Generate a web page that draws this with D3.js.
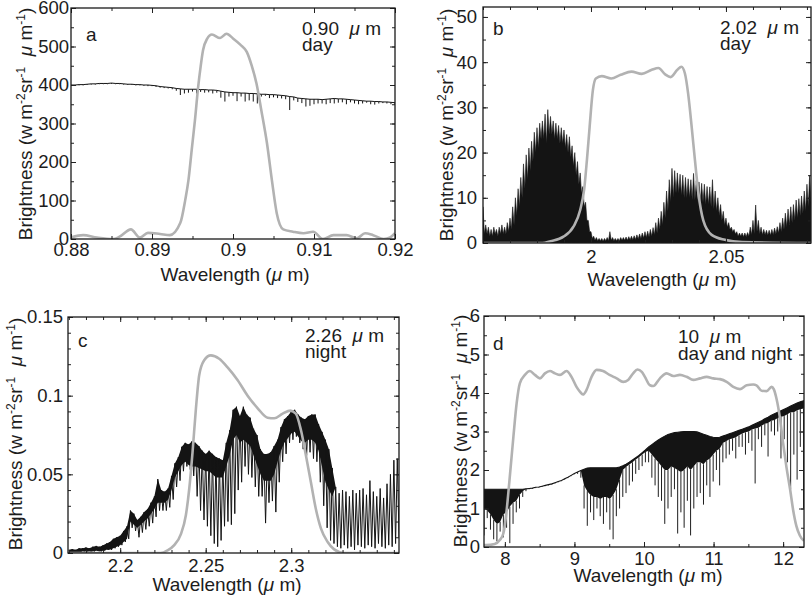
<!DOCTYPE html>
<html><head><meta charset="utf-8">
<script src="https://cdn.jsdelivr.net/npm/d3@7"></script>
<style>
body{margin:0;background:#fff;}
text{font-family:"Liberation Sans",Arial,Helvetica,sans-serif;fill:#1c1c1c;font-size:18.5px;white-space:pre;}
</style></head><body>
<svg id="chart" width="812" height="600" xmlns="http://www.w3.org/2000/svg"></svg>
<script>
// ---------------- DATA ----------------
// Panel a (0.90 um, day)
const aSpecStart = 0.880, aSpecStep = 0.0005;
const aSpecHi = [400,400,401,401,402,403,403,404,404,404,405,404,404,403,402,402,401,401,400,400,399,398,396,395,394,393,391,390,389,389,389,389,388,388,387,387,386,384,382,381,380,380,379,379,378,378,377,376,376,375,375,374,373,372,370,369,366,365,364,363,363,363,362,363,364,365,364,364,363,362,361,360,359,358,358,357,357,356,356,355,354];
const aSpecLo = [399,398,399,399,400,401,401,402,402,402,403,402,402,401,400,400,399,399,398,397,397,395,393,392,391,389,385,374,378,380,383,378,382,380,381,378,380,367,357,370,372,358,370,357,360,357,352,370,372,366,368,366,365,363,335,360,356,353,344,346,350,352,352,350,353,352,354,355,350,355,352,350,352,354,350,349,352,353,352,350,350];
const aFilter = [[0.8800,4],[0.8815,10],[0.8832,4],[0.8852,0],[0.8860,6],[0.8874,25],[0.8885,4],[0.8895,16],[0.8910,13],[0.8922,10],[0.8935,42],[0.8941,101],[0.8945,153],[0.8949,231],[0.8953,308],[0.8957,395],[0.8960,447],[0.8963,490],[0.8968,520],[0.8974,531],[0.8984,522],[0.8992,533],[0.9000,521],[0.9009,505],[0.9017,486],[0.9023,451],[0.9029,404],[0.9035,334],[0.9042,248],[0.9048,153],[0.9054,67],[0.9062,25],[0.9074,19],[0.9087,15],[0.9099,19],[0.9111,0],[0.9124,10],[0.9140,10],[0.9153,2],[0.9163,15],[0.9173,10],[0.9186,0],[0.9194,4],[0.9200,15]];
const aXTicks = [0.88,0.89,0.9,0.91,0.92];
const aYTicks = [0,100,200,300,400,500,600];

// Panel b (2.02 um, day)
const bSpecStart = 1.960, bSpecStep = 0.001;
const bSpecHi = [8,4,3.5,3,3.5,3,3.5,4,3.5,4.5,5.5,8,10,12,14.5,17.5,19.5,21,22.5,24.5,25.5,26.5,27,28.5,29.5,28,27,26.5,26,25.5,25,24,23.5,21.5,20,18,15.5,12.5,9,5,2.5,1.5,1.2,1,1,1,1.2,2.5,1.2,1,1,1.2,1.2,1.3,1.4,1.5,1.6,1.8,2,2.2,2.5,2.6,3,3.4,4.5,5.5,7,9,11.5,14,16.5,16,15.5,15.2,15,14.5,14.2,14,15.4,13.8,13.5,13.2,13,12.5,12.4,14,11.5,10,8.5,7,5.5,4.5,3.5,3,2.5,2.2,2.2,2.2,2.3,3.5,5,8.4,5,3.5,3,2.8,2.8,3,3.3,3.6,4.5,5.5,6.6,7.5,8,8.5,9.5,9.8,10.4,11.5,13,15,16];
const bSpecLo = [2,2,1.5,1.5,2,1.5,2,2,2,2.5,3,4,6,8,10,12,14,16,18,20,21,23,23,22,24,24,23,23,22,22,21,20,19,17,15,13,11,8,5,2.5,1,0.6,0.5,0.5,0.4,0.5,0.5,0.6,0.5,0.5,0.5,0.6,0.6,0.6,0.7,0.7,0.8,0.9,1,1.1,1.2,1.3,1.5,1.8,2.2,3,4,5.5,7,9,10,11,11,10.5,10,10,10,9.5,9.5,9,9,9,8.5,8.5,8,7.5,7,6,5,4,3.5,3,2.5,2,1.5,1.5,1.4,1.4,1.5,1.8,2,2.5,2,1.8,1.8,1.7,1.7,1.8,2,2.2,2.5,3,3.5,4,4.5,5,5.5,6,6.5,7,8,9,10];
const bFilter = [[1.960,0],[1.982,0],[1.985,0.4],[1.9898,1.4],[1.9935,3.6],[1.996,7.3],[1.9975,12],[1.9985,18.4],[1.9995,25.7],[2.0007,33.8],[2.0018,36.4],[2.004,36.9],[2.0075,36.4],[2.011,37.2],[2.015,37.9],[2.0188,37.4],[2.0225,38.3],[2.025,38.7],[2.0275,37.3],[2.0295,36.7],[2.032,38.3],[2.0335,39],[2.0348,37.5],[2.036,33],[2.0373,25.7],[2.0385,18.4],[2.0398,11],[2.0416,5],[2.0447,1.8],[2.0496,0.7],[2.056,0.2],[2.082,0]];
const bXTicks = [2,2.05];
const bYTicks = [0,10,20,30,40,50];

// Panel c (2.26 um, night)
const cSpecStart = 2.170, cSpecStep = 0.002;
const cSpecHi = [0.002,0.0025,0.002,0.003,0.003,0.0035,0.003,0.004,0.0045,0.004,0.005,0.006,0.007,0.009,0.010,0.011,0.014,0.017,0.027,0.025,0.021,0.023,0.026,0.028,0.032,0.036,0.047,0.040,0.039,0.041,0.049,0.057,0.061,0.0675,0.070,0.069,0.071,0.070,0.068,0.065,0.063,0.065,0.063,0.061,0.060,0.059,0.070,0.078,0.091,0.093,0.087,0.093,0.088,0.086,0.079,0.075,0.066,0.063,0.063,0.064,0.068,0.072,0.080,0.085,0.087,0.090,0.091,0.088,0.086,0.085,0.087,0.088,0.088,0.082,0.077,0.072,0.066,0.054,0.042,0.038,0.040,0.039,0.036,0.040,0.038,0.040,0.041,0.037,0.046,0.039,0.036,0.041,0.035,0.044,0.050,0.059,0.060];
const cSpecFloor = [0,0,0,0.0005,0.001,0.001,0.001,0.001,0.0015,0.001,0.0015,0.002,0.002,0.003,0.004,0.005,0.007,0.009,0.02,0.018,0.016,0.018,0.02,0.022,0.025,0.028,0.032,0.032,0.032,0.034,0.04,0.048,0.052,0.056,0.058,0.056,0.055,0.055,0.054,0.053,0.052,0.052,0.05,0.048,0.048,0.048,0.055,0.062,0.072,0.075,0.07,0.072,0.07,0.068,0.062,0.056,0.05,0.046,0.046,0.046,0.05,0.058,0.065,0.07,0.073,0.076,0.077,0.074,0.071,0.07,0.072,0.072,0.07,0.065,0.055,0.045,0.04,0.036,0.042,0.038,0.040,0.039,0.036,0.040,0.038,0.040,0.041,0.037,0.046,0.039,0.036,0.041,0.035,0.044,0.050,0.059,0.060];
const cSpecLo = [0,0,0,0.0005,0.001,0.001,0.001,0.001,0.0015,0.001,0.0015,0.002,0.002,0.003,0.004,0.005,0.007,0.009,0.016,0.014,0.010,0.013,0.015,0.017,0.019,0.023,0.027,0.027,0.027,0.029,0.034,0.042,0.046,0.052,0.055,0.053,0.049,0.036,0.027,0.021,0.017,0.011,0.006,0.004,0.008,0.017,0.020,0.018,0.025,0.040,0.045,0.055,0.050,0.048,0.042,0.036,0.036,0.019,0.032,0.033,0.026,0.045,0.058,0.063,0.070,0.072,0.074,0.070,0.066,0.062,0.064,0.060,0.058,0.045,0.030,0.016,0.008,0.006,0.004,0.003,0.005,0.003,0.004,0.002,0.005,0.004,0.003,0.005,0.004,0.003,0.006,0.004,0.003,0.005,0.004,0.006,0.010];
const cFilter = [[2.17,0],[2.2236,0],[2.2277,0.0017],[2.2316,0.005],[2.2355,0.012],[2.2384,0.024],[2.2404,0.041],[2.2423,0.064],[2.2443,0.092],[2.2462,0.113],[2.2491,0.1225],[2.253,0.1256],[2.2579,0.1235],[2.2628,0.118],[2.2686,0.11],[2.2745,0.1],[2.2804,0.092],[2.2862,0.086],[2.2901,0.0856],[2.295,0.0886],[2.2995,0.0905],[2.3027,0.0885],[2.3057,0.078],[2.3086,0.062],[2.3115,0.045],[2.3144,0.028],[2.3174,0.0155],[2.3213,0.007],[2.3251,0.0023],[2.331,0],[2.363,0]];
const cXTicks = [2.2,2.25,2.3];
const cYTicks = [0,0.05,0.1,0.15];

// Panel d (10 um, day and night)
const dSpecStart = 7.700, dSpecStep = 0.0464;
const dSpecCont = [1.5,1.5,1.5,1.5,1.5,1.5,1.5,1.5,1.5,1.5,1.5,1.5,1.5,1.51,1.52,1.53,1.55,1.56,1.58,1.60,1.62,1.64,1.67,1.70,1.73,1.77,1.81,1.86,1.91,1.95,1.99,2.02,2.05,2.06,2.06,2.06,2.06,2.06,2.06,2.06,2.06,2.06,2.08,2.11,2.15,2.2,2.26,2.32,2.38,2.45,2.52,2.6,2.66,2.72,2.78,2.83,2.88,2.92,2.95,2.97,2.98,2.99,3.0,3.0,3.0,3.0,2.99,2.96,2.93,2.90,2.87,2.85,2.84,2.85,2.88,2.91,2.94,2.97,3.0,3.03,3.06,3.09,3.12,3.16,3.2,3.24,3.28,3.33,3.37,3.42,3.46,3.5,3.54,3.58,3.62,3.66,3.7,3.74,3.77,3.8,3.82];
const dSpecFloor = [1.0,0.95,0.85,0.7,0.6,0.65,0.85,0.9,1.05,1.15,1.2,1.35,1.45,1.51,1.52,1.53,1.55,1.56,1.58,1.60,1.62,1.64,1.67,1.70,1.73,1.77,1.81,1.86,1.91,1.95,1.99,1.6,1.45,1.35,1.3,1.3,1.25,1.3,1.3,1.25,1.35,1.5,1.75,2.0,2.08,2.14,2.2,2.27,2.33,2.4,2.47,2.5,2.4,2.3,2.2,2.1,2.0,2.0,2.1,2.05,2.0,1.95,2.0,2.1,2.0,2.1,2.2,2.2,2.15,2.25,2.3,2.4,2.5,2.55,2.7,2.75,2.8,2.82,2.85,2.9,2.95,2.98,3.0,3.05,3.08,3.1,3.15,3.2,3.22,3.28,3.3,3.35,3.38,3.4,3.45,3.5,3.5,3.55,3.58,3.6,3.6];
const dSpecLo = [0.3,0.75,0.45,0.2,0.15,0.4,0.25,0.5,0.1,0.6,0.9,1.0,1.3,1.45,1.5,1.51,1.53,1.54,1.56,1.58,1.6,1.62,1.65,1.68,1.71,1.75,1.79,1.84,1.89,1.9,1.8,1.0,0.55,0.9,0.7,1.0,0.8,0.6,0.9,0.45,0.2,0.8,1.0,1.3,1.4,1.6,1.7,1.9,2.0,2.1,2.2,2.2,1.8,1.6,1.3,1.2,0.6,1.0,1.3,1.5,0.35,0.9,0.5,1.2,0.3,1.0,1.3,1.4,1.1,1.6,1.3,1.7,2.0,1.6,2.2,2.3,2.4,2.5,2.3,2.6,2.6,2.4,2.7,2.5,1.65,2.8,2.6,2.9,2.35,3.0,2.9,3.0,2.3,2.8,2.2,1.5,2.4,1.75,2.6,1.0,2.5];
const dFilter = [[7.70,0.05],[7.731,0.05],[7.855,0.08],[7.927,0.18],[7.978,0.35],[8.026,0.96],[8.071,1.83],[8.123,2.87],[8.169,3.73],[8.215,4.25],[8.288,4.47],[8.36,4.57],[8.432,4.47],[8.504,4.38],[8.576,4.51],[8.648,4.57],[8.721,4.51],[8.793,4.47],[8.886,4.57],[8.958,4.42],[9.03,4.16],[9.081,4.03],[9.123,3.96],[9.174,4.08],[9.246,4.42],[9.319,4.6],[9.411,4.57],[9.504,4.47],[9.607,4.38],[9.7,4.29],[9.772,4.34],[9.844,4.51],[9.906,4.61],[9.968,4.55],[10.013,4.42],[10.086,4.2],[10.133,4.18],[10.229,4.38],[10.325,4.51],[10.421,4.44],[10.516,4.47],[10.612,4.42],[10.708,4.34],[10.806,4.38],[10.9,4.42],[10.996,4.38],[11.092,4.36],[11.188,4.29],[11.283,4.16],[11.379,4.1],[11.475,4.2],[11.571,4.22],[11.617,4.2],[11.691,4.06],[11.763,4.05],[11.834,4.16],[11.865,4.1],[11.905,3.85],[11.95,3.4],[12.0,2.7],[12.05,2.05],[12.1,1.5],[12.145,0.95],[12.19,0.55],[12.24,0.3],[12.29,0.18],[12.3,0.17]];
const dXTicks = [8,9,10,11,12];
const dYTicks = [0,1,2,3,4,5,6];

// ---------------- DRAWING ----------------
const svg = d3.select("#chart");
const INK = "#141414", GREY = "#b2b2b2";

function sampleX(start, step, n) { return d3.range(n).map(i => start + i * step); }

function panel(cfg) {
  const x = d3.scaleLinear().domain(cfg.xDom).range([cfg.L, cfg.R]);
  const y = d3.scaleLinear().domain(cfg.yDom).range([cfg.B, cfg.T]);
  const g = svg.append("g");
  const clipId = "clip-" + cfg.id;
  svg.append("clipPath").attr("id", clipId).append("rect")
    .attr("x", cfg.L).attr("y", cfg.T).attr("width", cfg.R - cfg.L).attr("height", cfg.B - cfg.T);
  const plot = g.append("g").attr("clip-path", `url(#${clipId})`);
  cfg.drawSpectrum(plot, x, y);
  plot.append("path").datum(cfg.filter)
    .attr("fill", "none").attr("stroke", GREY).attr("stroke-width", 2.6)
    .attr("stroke-linejoin", "round")
    .attr("d", d3.line().x(d => x(d[0])).y(d => y(d[1])).curve(d3.curveMonotoneX));

  const fmt = d => String(+d.toFixed(4));
  const clean = s => { s.select(".domain").remove(); s.attr("font-size", null).attr("font-family", null).attr("color", "#222"); };
  g.append("g").attr("transform", `translate(0,${cfg.B})`)
    .call(d3.axisBottom(x).tickValues(cfg.xTicks).tickSize(-5).tickSizeOuter(0).tickPadding(cfg.xPad).tickFormat(fmt)).call(clean);
  g.append("g").attr("transform", `translate(${cfg.L},0)`)
    .call(d3.axisLeft(y).tickValues(cfg.yTicks).tickSize(-5).tickSizeOuter(0).tickPadding(cfg.yPad).tickFormat(fmt)).call(clean);
  g.append("g").attr("transform", `translate(0,${cfg.T})`)
    .call(d3.axisTop(x).tickValues(cfg.xTicks).tickSize(-5).tickSizeOuter(0).tickFormat("")).call(clean);
  g.append("g").attr("transform", `translate(${cfg.R},0)`)
    .call(d3.axisRight(y).tickValues(cfg.yTicks).tickSize(-5).tickSizeOuter(0).tickFormat("")).call(clean);
  const xm = cfg.xMinor.filter(v => v >= cfg.xDom[0] - 1e-9 && v <= cfg.xDom[1] + 1e-9);
  const ym = cfg.yMinor.filter(v => v >= cfg.yDom[0] - 1e-9 && v <= cfg.yDom[1] + 1e-9);
  [[d3.axisBottom, cfg.B, x, xm, "y"], [d3.axisTop, cfg.T, x, xm, "y"], [d3.axisLeft, cfg.L, y, ym, "x"], [d3.axisRight, cfg.R, y, ym, "x"]]
    .forEach(([ax, pos, sc, vals, dir]) => {
      g.append("g").attr("transform", dir === "y" ? `translate(0,${pos})` : `translate(${pos},0)`)
        .call(ax(sc).tickValues(vals).tickSize(-3).tickSizeOuter(0).tickFormat("")).call(clean);
    });
  g.append("rect").attr("x", cfg.L).attr("y", cfg.T).attr("width", cfg.R - cfg.L).attr("height", cfg.B - cfg.T)
    .attr("fill", "none").attr("stroke", "#1a1a1a").attr("stroke-width", 1.3);

  g.append("text").attr("x", cfg.xt[0]).attr("y", cfg.xt[1]).attr("text-anchor", "middle")
    .style("font-size", "19px")
    .call(t => { t.append("tspan").text("Wavelength ("); t.append("tspan").style("font-style", "italic").text("μ"); t.append("tspan").text(" m)"); });
  const yt = g.append("text").attr("transform", `translate(${cfg.yt[0]},${cfg.yt[1]}) rotate(-90)`)
    .attr("text-anchor", "middle").style("font-size", "19px");
  yt.append("tspan").text("Brightness (w m");
  yt.append("tspan").attr("dy", -7).style("font-size", "12px").text("-2");
  yt.append("tspan").attr("dy", 7).text("sr");
  yt.append("tspan").attr("dy", -7).style("font-size", "12px").text("-1");
  yt.append("tspan").attr("dy", 7).text("  ");
  yt.append("tspan").style("font-style", "italic").text("μ");
  yt.append("tspan").text(" m");
  yt.append("tspan").attr("dy", -7).style("font-size", "12px").text("-1");
  yt.append("tspan").attr("dy", 7).text(")");

  g.append("text").attr("x", cfg.letter[0]).attr("y", cfg.letter[1]).style("font-size", "19px").text(cfg.id);
  const ann = g.append("text").attr("x", cfg.ann[0]).attr("y", cfg.ann[1]).style("font-size", "19px");
  ann.append("tspan").text(cfg.band + "  ");
  ann.append("tspan").style("font-style", "italic").text("μ");
  ann.append("tspan").text(" m");
  g.append("text").attr("x", cfg.ann[0]).attr("y", cfg.ann[2]).style("font-size", "19px").text(cfg.when);
}

function drawA(p, x, y) {
  const xs = sampleX(aSpecStart, aSpecStep, aSpecHi.length);
  p.append("path").datum(aSpecHi).attr("fill", "none").attr("stroke", INK).attr("stroke-width", 1)
    .attr("d", d3.line().x((d, i) => x(xs[i])).y(d => y(d)));
  p.selectAll("line.a").data(aSpecHi).join("line").attr("class", "a")
    .attr("x1", (d, i) => x(xs[i])).attr("x2", (d, i) => x(xs[i]))
    .attr("y1", d => y(d)).attr("y2", (d, i) => y(aSpecLo[i]))
    .attr("stroke", INK).attr("stroke-width", 1);
}
function drawB(p, x, y) {
  const xs = sampleX(bSpecStart, bSpecStep, bSpecHi.length);
  const pts = [];
  bSpecHi.forEach((h, i) => { pts.push([xs[i], h]); pts.push([xs[i] + bSpecStep / 2, bSpecLo[i]]); });
  p.append("path").datum(pts).attr("fill", INK).attr("stroke", INK).attr("stroke-width", 0.6)
    .attr("d", d3.area().x(d => x(d[0])).y0(y(0)).y1(d => y(d[1])));
}
function drawC(p, x, y) {
  const xs = sampleX(cSpecStart, cSpecStep, cSpecHi.length);
  p.append("path").datum(cSpecHi).attr("fill", INK)
    .attr("d", d3.area().x((d, i) => x(xs[i])).y0((d, i) => y(cSpecFloor[i])).y1(d => y(d)));
  const pts = [];
  cSpecHi.forEach((h, i) => { pts.push([xs[i], h]); pts.push([xs[i] + cSpecStep / 2, cSpecLo[i]]); });
  p.append("path").datum(pts).attr("fill", "none").attr("stroke", INK).attr("stroke-width", 1)
    .attr("d", d3.line().x(d => x(d[0])).y(d => y(d[1])));
}
function drawD(p, x, y) {
  const xs = sampleX(dSpecStart, dSpecStep, dSpecCont.length);
  p.append("path").datum(dSpecCont).attr("fill", INK)
    .attr("d", d3.area().x((d, i) => x(xs[i])).y0((d, i) => y(dSpecFloor[i])).y1(d => y(d)));
  p.append("path").datum(dSpecCont).attr("fill", "none").attr("stroke", INK).attr("stroke-width", 1.1)
    .attr("d", d3.line().x((d, i) => x(xs[i])).y(d => y(d)));
  p.selectAll("line.d").data(dSpecFloor).join("line").attr("class", "d")
    .attr("x1", (d, i) => x(xs[i])).attr("x2", (d, i) => x(xs[i]))
    .attr("y1", d => y(d)).attr("y2", (d, i) => y(dSpecLo[i]))
    .attr("stroke", "#1e1e1e").attr("stroke-width", 1);
}

panel({ id: "a", L: 71, R: 395, T: 8, B: 239, xDom: [0.88, 0.92], yDom: [0, 600],
  xTicks: aXTicks, yTicks: aYTicks, xMinor: d3.range(0.88, 0.9201, 0.005), yMinor: d3.range(0, 601, 50),
  xPad: 4, yPad: 2, xt: [235, 281], yt: [32, 124], letter: [86, 41], ann: [302, 35, 51], band: "0.90", when: "day",
  filter: aFilter, drawSpectrum: drawA });
panel({ id: "b", L: 483, R: 811, T: 7, B: 243, xDom: [1.96, 2.0815], yDom: [0, 52.2],
  xTicks: bXTicks, yTicks: bYTicks, xMinor: d3.range(1.96, 2.0816, 0.01), yMinor: d3.range(0, 52.2, 5),
  xPad: 7, yPad: 6, xt: [662, 286], yt: [453, 125], letter: [493, 35], ann: [720, 34, 50], band: "2.02", when: "day",
  filter: bFilter, drawSpectrum: drawB });
panel({ id: "c", L: 68, R: 399, T: 317, B: 553, xDom: [2.1695, 2.363], yDom: [0, 0.15],
  xTicks: cXTicks, yTicks: cYTicks, xMinor: d3.range(2.17, 2.3631, 0.01), yMinor: d3.range(0, 0.1501, 0.01),
  xPad: 6, yPad: 5, xt: [227, 591], yt: [22, 434], letter: [78, 347], ann: [305, 342, 358], band: "2.26", when: "night",
  filter: cFilter, drawSpectrum: drawC });
panel({ id: "d", L: 484, R: 804, T: 316, B: 547, xDom: [7.7, 12.3], yDom: [0, 6],
  xTicks: dXTicks, yTicks: dYTicks, xMinor: d3.range(8, 12.31, 0.5), yMinor: d3.range(0, 6.01, 0.5),
  xPad: 5, yPad: 4, xt: [648, 582], yt: [467, 431], letter: [493, 350], ann: [678, 343, 360], band: "10", when: "day and night",
  filter: dFilter, drawSpectrum: drawD });
</script>
</body></html>
